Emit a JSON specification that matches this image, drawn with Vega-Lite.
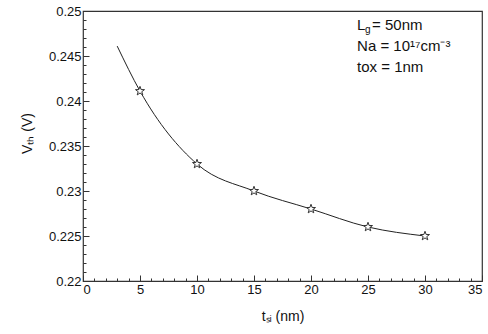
{
  "$schema": "https://vega.github.io/schema/vega-lite/v6.json",
  "autosize": "none",
  "width": 399,
  "height": 270,
  "padding": {"left": 83, "top": 11, "right": 6, "bottom": 53},
  "background": "white",
  "config": {
    "view": {"stroke": "#333", "strokeWidth": 1.2},
    "font": "Liberation Sans",
    "axis": {"grid": false, "domain": false, "tickColor": "#333", "labelColor": "#111", "titleColor": "#111", "labelFont": "Liberation Sans", "titleFont": "Liberation Sans", "labelFontSize": 13, "titleFontSize": 14, "titleFontWeight": "normal", "labelOverlap": false, "tickCount": 60}
  },
  "datasets": {
    "curve": [
      {"tsi": 3, "vth": 0.2461},
      {"tsi": 5, "vth": 0.2411},
      {"tsi": 10, "vth": 0.2330},
      {"tsi": 15, "vth": 0.2300},
      {"tsi": 20, "vth": 0.2280},
      {"tsi": 25, "vth": 0.2260},
      {"tsi": 30, "vth": 0.2250}
    ],
    "points": [
      {"tsi": 5, "vth": 0.2411},
      {"tsi": 10, "vth": 0.2330},
      {"tsi": 15, "vth": 0.2300},
      {"tsi": 20, "vth": 0.2280},
      {"tsi": 25, "vth": 0.2260},
      {"tsi": 30, "vth": 0.2250}
    ],
    "notes": [
      {"label": "Na = 10¹⁷cm⁻³", "tsi": 24.04, "vth": 0.2461},
      {"label": "tox = 1nm", "tsi": 24.04, "vth": 0.2438}
    ],
    "lg": [{"tsi": 24.04, "vth": 0.2484}]
  },
  "layer": [
    {
      "data": {"name": "curve"},
      "mark": {"type": "line", "interpolate": "monotone", "color": "#222", "strokeWidth": 1},
      "encoding": {
        "x": {"field": "tsi", "type": "quantitative", "scale": {"domain": [0, 35], "nice": false},
          "axis": {"orient": "bottom", "title": "tₛᵢ (nm)", "format": "d", "tickCount": 60, "values": [0,1,2,3,4,5,6,7,8,9,10,11,12,13,14,15,16,17,18,19,20,21,22,23,24,25,26,27,28,29,30,31,32,33,34,35],
            "labelExpr": "datum.value % 5 === 0 ? datum.label : ''",
            "tickSize": {"condition": {"test": "datum.value % 5 === 0", "value": -6}, "value": -3},
            "labelPadding": 8, "titlePadding": 10}},
        "y": {"field": "vth", "type": "quantitative", "scale": {"domain": [0.22, 0.25], "nice": false, "zero": false},
          "axis": {"orient": "left", "title": "Vₜₕ (V)", "tickCount": 60, "titleY": 122, "values": [0.22,0.221,0.222,0.223,0.224,0.225,0.226,0.227,0.228,0.229,0.23,0.231,0.232,0.233,0.234,0.235,0.236,0.237,0.238,0.239,0.24,0.241,0.242,0.243,0.244,0.245,0.246,0.247,0.248,0.249,0.25],
            "format": "~g",
            "labelExpr": "round(datum.value * 1000) % 5 === 0 ? datum.label : ''",
            "tickSize": {"condition": {"test": "round(datum.value * 1000) % 5 === 0", "value": -6}, "value": -3},
            "labelPadding": 8, "titlePadding": 14}}
      }
    },
    {
      "data": {"name": "points"},
      "mark": {"type": "point", "shape": "M0,-1L0.235,-0.324L0.951,-0.309L0.380,0.124L0.588,0.809L0,0.4L-0.588,0.809L-0.380,0.124L-0.951,-0.309L-0.235,-0.324Z", "size": 90, "filled": true, "fill": "white", "stroke": "#333", "strokeWidth": 1, "opacity": 1},
      "encoding": {
        "x": {"field": "tsi", "type": "quantitative"},
        "y": {"field": "vth", "type": "quantitative"}
      }
    },
    {
      "data": {"name": "notes"},
      "mark": {"type": "text", "align": "left", "baseline": "middle", "fontSize": 15, "color": "#111"},
      "encoding": {
        "x": {"field": "tsi", "type": "quantitative"},
        "y": {"field": "vth", "type": "quantitative"},
        "text": {"field": "label"}
      }
    },
    {
      "data": {"name": "lg"},
      "mark": {"type": "text", "align": "left", "baseline": "middle", "fontSize": 15, "color": "#111", "text": "L"},
      "encoding": {"x": {"field": "tsi", "type": "quantitative"}, "y": {"field": "vth", "type": "quantitative"}}
    },
    {
      "data": {"name": "lg"},
      "mark": {"type": "text", "align": "left", "baseline": "middle", "fontSize": 10, "color": "#111", "text": "g", "dx": 8, "dy": 5},
      "encoding": {"x": {"field": "tsi", "type": "quantitative"}, "y": {"field": "vth", "type": "quantitative"}}
    },
    {
      "data": {"name": "lg"},
      "mark": {"type": "text", "align": "left", "baseline": "middle", "fontSize": 15, "color": "#111", "text": "= 50nm", "dx": 15},
      "encoding": {"x": {"field": "tsi", "type": "quantitative"}, "y": {"field": "vth", "type": "quantitative"}}
    }
  ]
}
